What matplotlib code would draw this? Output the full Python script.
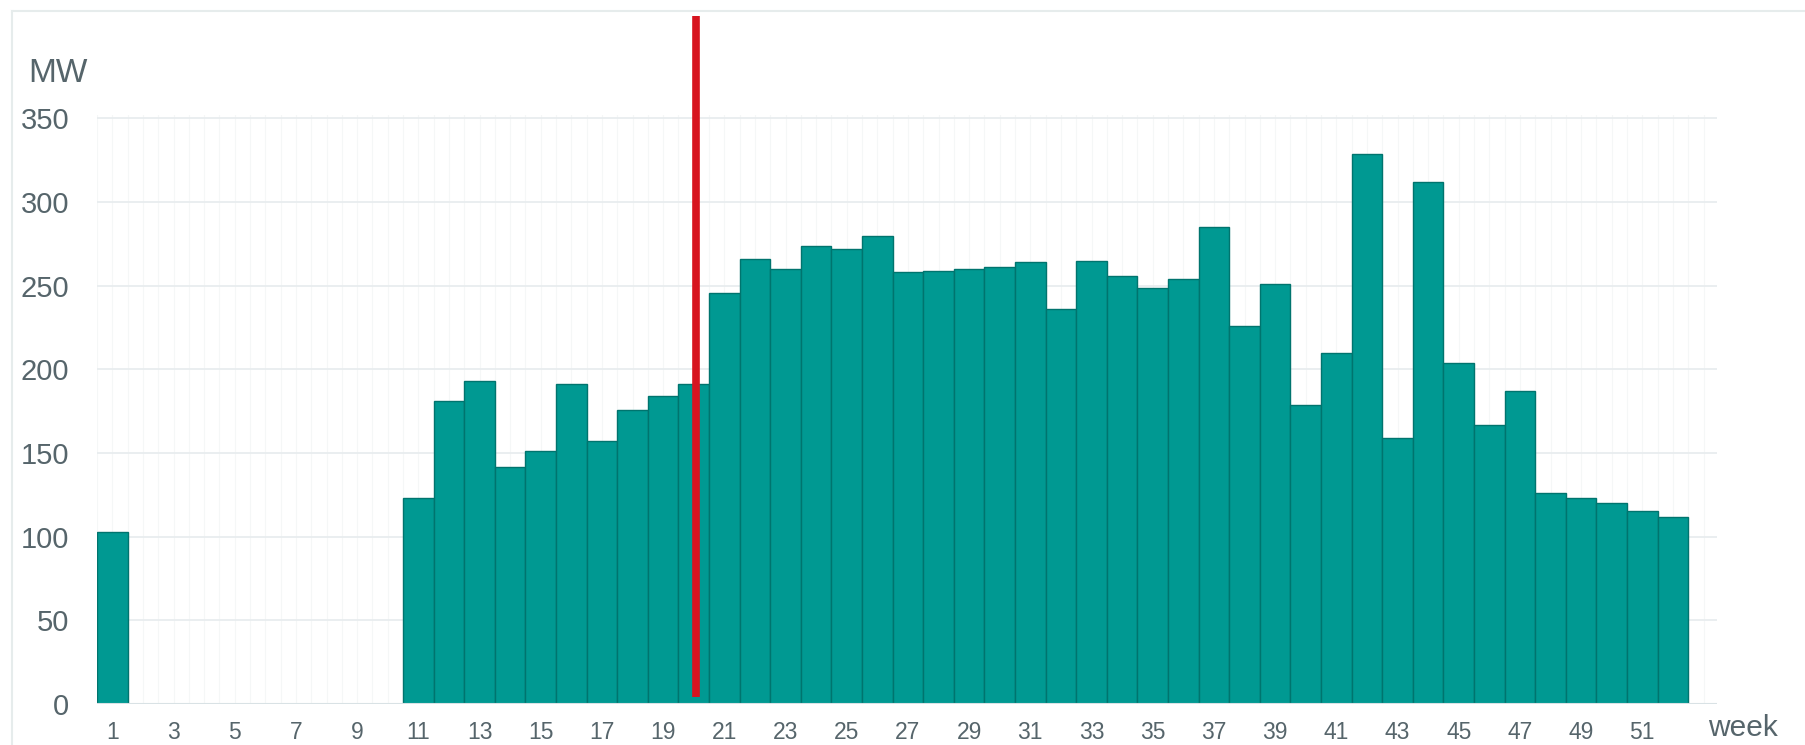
import numpy as np
import matplotlib
matplotlib.use('Agg')
import matplotlib.pyplot as plt
from matplotlib.lines import Line2D

plt.rcParams['font.family'] = ['Liberation Sans', 'DejaVu Sans']

# Weekly capacity (MW); weeks 2-10 have no value
weeks = list(range(1, 53))
mw = [103, np.nan, np.nan, np.nan, np.nan, np.nan, np.nan, np.nan, np.nan, np.nan,
      123, 181, 193, 141.5, 151.5, 191, 157.5, 176, 184, 191,
      245.5, 266, 260, 274, 272, 280, 258, 259, 260, 261,
      264, 236, 265, 256, 248.5, 254, 285, 226, 251, 179,
      210, 328.5, 159, 312, 204, 167, 187, 126, 123, 120, 115.5, 111.5]
tick_weeks = weeks[::2]
y_ticks = [0, 50, 100, 150, 200, 250, 300, 350]
marker_week = 20.07
marker_range = (4, 411)

text_col = '#56656b'
bar_col = '#009992'
edge_col = '#00746e'

W, H = 1806, 745
fig = plt.figure(figsize=(W / 100, H / 100), dpi=100)
fig.patch.set_facecolor('white')

# axes: x from 97px to 1717px, y=0 at 704px, 1.673 px per MW
y_top = 352
ax_left, ax_right = 97, 1717
y0_px = 704
px_per = 1.673
ax = fig.add_axes([ax_left / W, (H - y0_px) / H,
                   (ax_right - ax_left) / W, y_top * px_per / H])

x = np.array(weeks)
y = np.array(mw, dtype=float)
has = ~np.isnan(y)
ax.bar(x[has], y[has], width=1.0, color=bar_col, edgecolor=edge_col,
       linewidth=1.0, zorder=3)

ax.set_xlim(0.5, 53.44)
ax.set_ylim(0, y_top)

# faint vertical lines every half week
for v in np.arange(0.5, 53.3, 0.5):
    ax.axvline(v, color='#f5f7f7', lw=0.8, zorder=0)
for t in y_ticks[1:]:
    ax.axhline(t, color='#e8edef', lw=1.3, zorder=1)
ax.axhline(0, color='#d9e2e5', lw=1.5, zorder=4)

ax.vlines(marker_week, marker_range[0], marker_range[1], color='#d7141f',
          lw=5.5, zorder=5, clip_on=False)

for s in ax.spines.values():
    s.set_visible(False)

ax.set_xticks(tick_weeks)
ax.set_xticklabels([str(w) for w in tick_weeks])
ax.set_yticks(y_ticks)
ax.set_yticklabels([str(v) for v in y_ticks])
ax.tick_params(axis='x', length=0, pad=12, labelsize=16.5, labelcolor=text_col)
ax.tick_params(axis='y', length=0, pad=20, labelsize=21, labelcolor=text_col)

fig.text(28 / W, 1 - 74 / H, 'MW', ha='left', va='center', fontsize=24,
         color=text_col)
fig.text(1708 / W, 1 - 728 / H, 'week', ha='left', va='center', fontsize=21.5,
         color=text_col)

# outer frame (top and left edges visible)
fig.add_artist(Line2D([12 / W, 1], [1 - 11 / H, 1 - 11 / H],
                      transform=fig.transFigure, color='#e6ecec', lw=1.5))
fig.add_artist(Line2D([12 / W, 12 / W], [0, 1 - 11 / H],
                      transform=fig.transFigure, color='#e6ecec', lw=1.5))

fig.savefig('out.png', dpi=100, facecolor='white')
